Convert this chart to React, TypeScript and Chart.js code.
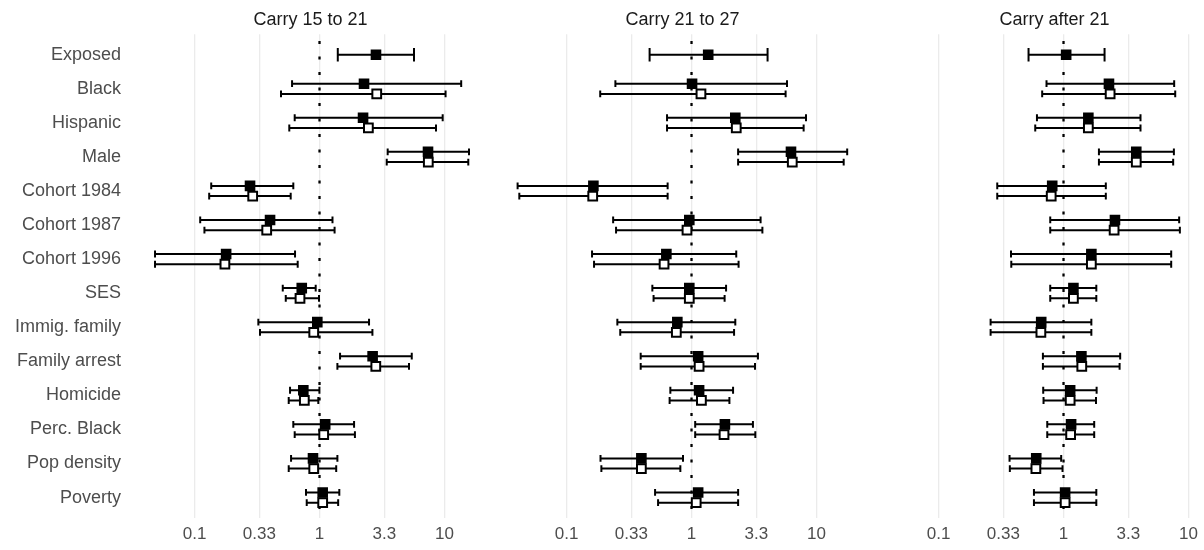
import React, { useEffect, useRef } from "react";
import { Chart, registerables } from "chart.js";

Chart.register(...registerables);

// ---------- data ----------
const categories = [
  "Exposed",
  "Black",
  "Hispanic",
  "Male",
  "Cohort 1984",
  "Cohort 1987",
  "Cohort 1996",
  "SES",
  "Immig. family",
  "Family arrest",
  "Homicide",
  "Perc. Black",
  "Pop density",
  "Poverty",
];

const panelTitles = ["Carry 15 to 21", "Carry 21 to 27", "Carry after 21"];

const xTickValues = [0.1, 0.33, 1, 3.3, 10];
const xTickLabels = ["0.1", "0.33", "1", "3.3", "10"];

// Carry 15 to 21 — model 1 (filled squares)
const p1FilledEst = [2.83, 2.27, 2.23, 7.38, 0.278, 0.402, 0.179, 0.721, 0.96, 2.66, 0.742, 1.11, 0.887, 1.06];
const p1FilledLow = [1.4, 0.603, 0.633, 3.51, 0.136, 0.111, 0.0483, 0.508, 0.324, 1.46, 0.581, 0.617, 0.592, 0.78];
const p1FilledHigh = [5.7, 13.6, 9.67, 15.7, 0.617, 1.27, 0.637, 0.932, 2.49, 5.47, 0.998, 1.89, 1.39, 1.44];
// Carry 15 to 21 — model 2 (open squares)
const p1OpenEst = [null, 2.87, 2.46, 7.42, 0.292, 0.378, 0.175, 0.698, 0.899, 2.82, 0.756, 1.08, 0.899, 1.06];
const p1OpenLow = [null, 0.492, 0.573, 3.45, 0.131, 0.12, 0.0483, 0.537, 0.334, 1.39, 0.567, 0.633, 0.567, 0.79];
const p1OpenHigh = [null, 10.2, 8.55, 15.5, 0.588, 1.32, 0.669, 0.991, 2.65, 5.2, 0.978, 1.92, 1.36, 1.41];

// Carry 21 to 27 — model 1 (filled squares)
const p2FilledEst = [1.36, 1.01, 2.24, 6.25, 0.164, 0.96, 0.629, 0.96, 0.77, 1.13, 1.15, 1.85, 0.397, 1.13];
const p2FilledLow = [0.462, 0.246, 0.637, 2.36, 0.0406, 0.236, 0.16, 0.486, 0.255, 0.392, 0.677, 1.07, 0.187, 0.511];
const p2FilledHigh = [4.06, 5.81, 8.24, 17.6, 0.644, 3.57, 2.28, 1.89, 2.24, 3.4, 2.15, 3.1, 0.855, 2.36];
// Carry 21 to 27 — model 2 (open squares)
const p2OpenEst = [null, 1.19, 2.28, 6.4, 0.162, 0.92, 0.603, 0.96, 0.756, 1.15, 1.2, 1.82, 0.397, 1.09];
const p2OpenLow = [null, 0.186, 0.637, 2.36, 0.0419, 0.249, 0.166, 0.497, 0.269, 0.392, 0.668, 1.07, 0.19, 0.54];
const p2OpenHigh = [null, 5.66, 7.89, 16.5, 0.644, 3.69, 2.38, 1.84, 2.19, 3.22, 2.01, 3.24, 0.814, 2.36];

// Carry after 21 — model 1 (filled squares)
const p3FilledEst = [1.05, 2.31, 1.58, 3.82, 0.812, 2.58, 1.67, 1.2, 0.663, 1.39, 1.13, 1.15, 0.605, 1.03];
const p3FilledLow = [0.525, 0.731, 0.613, 1.92, 0.295, 0.783, 0.38, 0.783, 0.261, 0.684, 0.688, 0.741, 0.37, 0.58];
const p3FilledHigh = [2.13, 7.68, 4.13, 7.64, 2.18, 8.42, 7.27, 1.83, 1.67, 2.84, 1.84, 1.76, 0.958, 1.83];
// Carry after 21 — model 2 (open squares)
const p3OpenEst = [null, 2.36, 1.58, 3.82, 0.797, 2.54, 1.67, 1.2, 0.659, 1.4, 1.13, 1.14, 0.601, 1.03];
const p3OpenLow = [null, 0.675, 0.594, 1.92, 0.295, 0.783, 0.382, 0.783, 0.261, 0.684, 0.692, 0.741, 0.372, 0.58];
const p3OpenHigh = [null, 7.83, 4.13, 7.54, 2.18, 8.53, 7.27, 1.83, 1.67, 2.81, 1.82, 1.76, 0.982, 1.83];

type Series = { est: (number | null)[]; low: (number | null)[]; high: (number | null)[] };
type PanelData = { title: string; filled: Series; open: Series };

const panels: PanelData[] = [
  {
    title: panelTitles[0],
    filled: { est: p1FilledEst, low: p1FilledLow, high: p1FilledHigh },
    open: { est: p1OpenEst, low: p1OpenLow, high: p1OpenHigh },
  },
  {
    title: panelTitles[1],
    filled: { est: p2FilledEst, low: p2FilledLow, high: p2FilledHigh },
    open: { est: p2OpenEst, low: p2OpenLow, high: p2OpenHigh },
  },
  {
    title: panelTitles[2],
    filled: { est: p3FilledEst, low: p3FilledLow, high: p3FilledHigh },
    open: { est: p3OpenEst, low: p3OpenLow, high: p3OpenHigh },
  },
];

// ---------- layout / style ----------
const FONT = "'Liberation Sans', Arial, sans-serif";
const X_MIN = 0.0299;
const X_MAX = 23.99;
const Y_MIN = -0.6;
const Y_MAX = 13.6;
const DODGE = 0.15;
const CAP_DODGED = 0.1;
const CAP_SINGLE = 0.2;
const H = 550;
const TOP = 34.3;
const BOTTOM_AXIS = 32;
const LABEL_W = 129;
const PANEL_W = 363;
const PANEL_LEFTS = [0, 501, 873];

function yPos(i: number, hasOpen: boolean, isOpen: boolean) {
  if (!hasOpen) return i;
  return isOpen ? i + DODGE : i - DODGE;
}

function Panel({ idx }: { idx: number }) {
  const ref = useRef<HTMLCanvasElement | null>(null);
  const showLabels = idx === 0;
  const width = showLabels ? LABEL_W + PANEL_W : PANEL_W;

  useEffect(() => {
    const p = panels[idx];
    const filledPts: any[] = [];
    const openPts: any[] = [];
    p.filled.est.forEach((v, i) => {
      if (v == null) return;
      filledPts.push({ x: v, y: yPos(i, p.open.est[i] != null, false) });
    });
    p.open.est.forEach((v, i) => {
      if (v == null) return;
      openPts.push({ x: v, y: yPos(i, true, true) });
    });

    const panelPlugin = {
      id: "forest" + idx,
      beforeDatasetsDraw(chart: any) {
        const { ctx, chartArea: a } = chart;
        const xs = chart.scales.x;
        const ys = chart.scales.y;
        ctx.save();
        ctx.beginPath();
        ctx.rect(a.left, a.top, a.right - a.left, a.bottom - a.top);
        ctx.clip();
        // reference line at 1
        const xr = xs.getPixelForValue(1);
        ctx.strokeStyle = "#000";
        ctx.lineWidth = 2.3;
        ctx.setLineDash([3, 12.5]);
        ctx.lineDashOffset = 8.8;
        ctx.beginPath();
        ctx.moveTo(xr, a.top);
        ctx.lineTo(xr, a.bottom);
        ctx.stroke();
        ctx.setLineDash([]);
        // error bars
        ctx.lineWidth = 2;
        ctx.lineCap = "butt";
        const drawSeries = (s: Series, isOpen: boolean) => {
          s.est.forEach((v, i) => {
            if (v == null) return;
            const lo = s.low[i] as number;
            const hi = s.high[i] as number;
            const hasOpen = p.open.est[i] != null;
            const yc = yPos(i, hasOpen, isOpen);
            const cap = hasOpen ? CAP_DODGED : CAP_SINGLE;
            const py = ys.getPixelForValue(yc);
            const py1 = ys.getPixelForValue(yc - cap);
            const py2 = ys.getPixelForValue(yc + cap);
            const pxl = xs.getPixelForValue(lo);
            const pxh = xs.getPixelForValue(hi);
            ctx.beginPath();
            ctx.moveTo(pxl, py);
            ctx.lineTo(pxh, py);
            ctx.moveTo(pxl, py1);
            ctx.lineTo(pxl, py2);
            ctx.moveTo(pxh, py1);
            ctx.lineTo(pxh, py2);
            ctx.stroke();
          });
        };
        drawSeries(p.filled, false);
        drawSeries(p.open, true);
        ctx.restore();
      },
      afterDraw(chart: any) {
        const { ctx, chartArea: a } = chart;
        ctx.save();
        ctx.font = `18px ${FONT}`;
        ctx.fillStyle = "#1A1A1A";
        ctx.textAlign = "center";
        ctx.textBaseline = "alphabetic";
        ctx.fillText(p.title, (a.left + a.right) / 2, 25);
        ctx.restore();
      },
    };

    const chart = new Chart(ref.current as HTMLCanvasElement, {
      type: "scatter",
      data: {
        datasets: [
          {
            label: "Model 2",
            data: openPts,
            pointStyle: "rect",
            pointRadius: 6.2,
            pointHoverRadius: 6.2,
            backgroundColor: "#fff",
            borderColor: "#000",
            borderWidth: 2,
          },
          {
            label: "Model 1",
            data: filledPts,
            pointStyle: "rect",
            pointRadius: 7.5,
            pointHoverRadius: 7.5,
            backgroundColor: "#000",
            borderColor: "#000",
            borderWidth: 0,
          },
        ],
      },
      options: {
        animation: false,
        responsive: false,
        events: [],
        layout: { autoPadding: false, padding: { top: TOP, left: 0, right: 0, bottom: 0 } },
        plugins: {
          legend: { display: false },
          tooltip: { enabled: false },
          title: { display: false },
        },
        scales: {
          x: {
            type: "logarithmic",
            min: X_MIN,
            max: X_MAX,
            afterBuildTicks: (s: any) => {
              s.ticks = xTickValues.map((v) => ({ value: v }));
            },
            afterFit: (s: any) => {
              s.height = BOTTOM_AXIS;
            },
            ticks: {
              autoSkip: false,
              maxRotation: 0,
              padding: 6.5,
              color: "#4D4D4D",
              font: { family: FONT, size: 17 },
              callback: (_v: any, i: number) => xTickLabels[i],
            },
            grid: { color: "#EBEBEB", lineWidth: 1.3, drawTicks: false },
            border: { display: false },
          },
          y: {
            type: "linear",
            reverse: true,
            min: Y_MIN,
            max: Y_MAX,
            display: showLabels,
            afterBuildTicks: (s: any) => {
              s.ticks = categories.map((_c, i) => ({ value: i }));
            },
            afterFit: (s: any) => {
              s.width = showLabels ? LABEL_W : 0;
            },
            ticks: {
              autoSkip: false,
              padding: 8,
              color: "#4D4D4D",
              font: { family: FONT, size: 18 },
              callback: (v: any) => categories[Math.round(Number(v))],
            },
            grid: { display: false, drawTicks: false },
            border: { display: false },
          },
        },
      },
      plugins: [panelPlugin],
    } as any);
    return () => chart.destroy();
  }, [idx]);

  return (
    <div style={{ position: "absolute", left: PANEL_LEFTS[idx], top: 0, width, height: H }}>
      <canvas ref={ref} width={width} height={H} style={{ width, height: H, display: "block" }} />
    </div>
  );
}

export default function App() {
  return (
    <div
      style={{
        position: "absolute",
        left: 0,
        top: 0,
        width: 1204,
        height: H,
        overflow: "hidden",
        background: "#fff",
      }}
    >
      <Panel idx={0} />
      <Panel idx={1} />
      <Panel idx={2} />
    </div>
  );
}
